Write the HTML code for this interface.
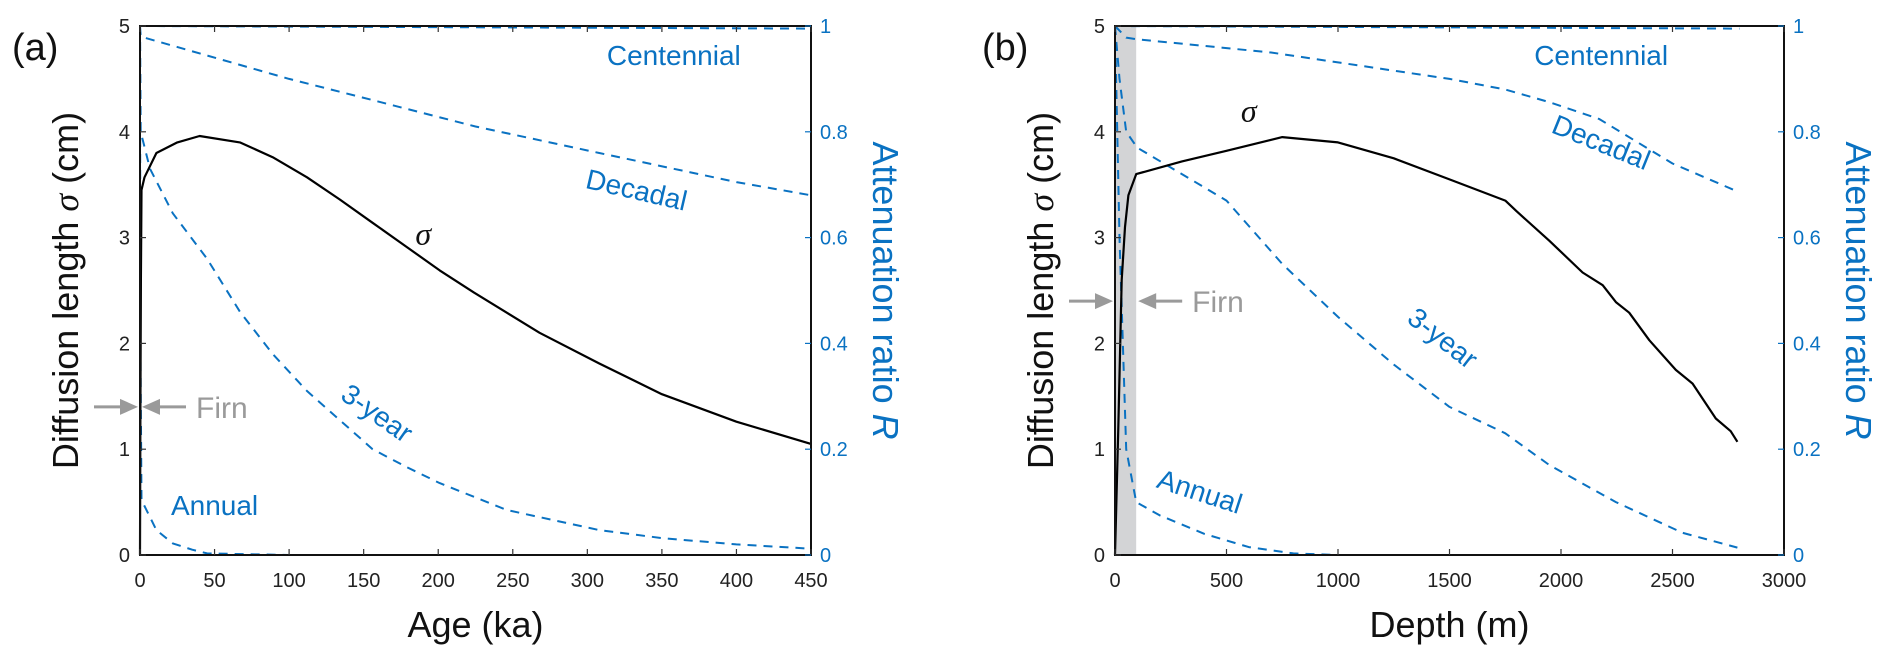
<!DOCTYPE html>
<html><head><meta charset="utf-8"><style>
html,body{margin:0;padding:0;background:#fff}
svg{display:block;font-family:"Liberation Sans",Arial,sans-serif}
</style></head><body>
<svg id="fig" width="1892" height="661" viewBox="0 0 1892 661" xmlns="http://www.w3.org/2000/svg"></svg>
<script>
// ---- Panel (a) data: age (ka) ----
const aSigmaX = [0,0.3,0.6,1,3,11,25,40,67,89,112,134,156,179,201,224,246,268,308,350,400,450];
const aSigmaY = [0,1.4,2.6,3.45,3.57,3.8,3.9,3.96,3.9,3.76,3.57,3.36,3.14,2.91,2.69,2.48,2.29,2.1,1.81,1.52,1.26,1.05];
const aCentX = [0,450];
const aCentR = [1.0,0.995];
const aDecX = [0,0.5,100,156,225,308,400,450];
const aDecR = [1.0,0.98,0.9,0.86,0.81,0.76,0.705,0.68];
const aTriX = [0,0.5,6.7,22,45,67,89,112,134,156,179,201,246,308,350,400,450];
const aTriR = [1.0,0.8,0.73,0.646,0.56,0.46,0.38,0.31,0.255,0.2,0.166,0.136,0.085,0.047,0.032,0.02,0.012];
const aAnnX = [0,0.3,1,11,22,35,45,100,450];
const aAnnR = [1.0,0.4,0.104,0.047,0.022,0.01,0.003,0,0];
const aXTicks = [0,50,100,150,200,250,300,350,400,450];
// ---- Panel (b) data: depth (m) ----
const bSigmaX = [0,15,30,45,60,95,300,500,750,1000,1250,1500,1750,1800,1948,2097,2187,2246,2306,2396,2515,2590,2694,2761,2791];
const bSigmaY = [0,1.2,2.6,3.1,3.4,3.6,3.72,3.82,3.95,3.9,3.75,3.55,3.35,3.25,2.97,2.67,2.55,2.39,2.29,2.03,1.75,1.62,1.29,1.17,1.07];
const bCentX = [0,2800];
const bCentR = [1.0,0.995];
const bDecX = [0,50,95,700,1500,1750,1948,2172,2500,2776];
const bDecR = [1.0,0.978,0.975,0.95,0.9,0.88,0.856,0.824,0.74,0.69];
const bTriX = [0,20,50,100,300,500,750,1000,1250,1500,1750,1948,2246,2545,2791];
const bTriR = [1.0,0.9,0.8,0.77,0.72,0.67,0.55,0.45,0.36,0.28,0.23,0.17,0.10,0.042,0.014];
const bAnnX = [0,20,50,95,200,400,600,800,1000,2800];
const bAnnR = [1.0,0.6,0.2,0.1,0.075,0.04,0.015,0.003,0,0];
const bXTicks = [0,500,1000,1500,2000,2500,3000];
// ---- common ticks ----
const leftTicks = [0,1,2,3,4,5];
const rightTicks = ["0","0.2","0.4","0.6","0.8","1"];

const NS="http://www.w3.org/2000/svg";
const svg=document.getElementById('fig');
const BLUE="#0a72c2";
function mk(tag,attrs,parent){const e=document.createElementNS(NS,tag);for(const k in attrs)e.setAttribute(k,attrs[k]);(parent||svg).appendChild(e);return e;}
function txt(s,attrs,parent){const t=mk('text',attrs,parent);t.textContent=s;return t;}

function panel(cfg){
  const L=cfg.L,R=cfg.R,T=26,B=555;
  const g=mk('g',{});
  
  
  const sx=v=>L+(v/cfg.xmax)*(R-L);
  const sy=v=>B-(v/5)*(B-T);
  const sr=v=>B-v*(B-T);
  if(cfg.band){const r=mk('rect',{x:sx(0),y:T,width:sx(cfg.band)-sx(0),height:B-T,fill:"#d3d4d6"},g);
    
    }
  function line(xs,ys,scale,dashed,nm){
    let d='';xs.forEach((x,i)=>{d+=(i?'L':'M')+sx(x).toFixed(1)+','+scale(ys[i]).toFixed(1);});
    const p=mk('path',{d:d,fill:'none',stroke:dashed?BLUE:'#000','stroke-width':dashed?2:2.2,'stroke-dasharray':dashed?'9,7':'none','stroke-linejoin':'round'},g);
    
    
  }
  line(cfg.cX,cfg.cR,sr,true,'centennial-line');
  line(cfg.dX,cfg.dR,sr,true,'decadal-line');
  line(cfg.tX,cfg.tR,sr,true,'three-year-line');
  line(cfg.nX,cfg.nR,sr,true,'annual-line');
  line(cfg.sX,cfg.sY,sy,false,'sigma-line');
  const fr=mk('rect',{x:L,y:T,width:R-L,height:B-T,fill:'none',stroke:'#111','stroke-width':2},g);
  
  
  cfg.xt.forEach(v=>{
    mk('line',{x1:sx(v),x2:sx(v),y1:B,y2:B-6,stroke:'#333','stroke-width':1.2},g);
    mk('line',{x1:sx(v),x2:sx(v),y1:T,y2:T+6,stroke:'#333','stroke-width':1.2},g);
    const t=txt(String(v),{x:sx(v),y:B+32,'font-size':20,'text-anchor':'middle',fill:'#222'},g);
    
    
  });
  leftTicks.forEach(v=>{
    mk('line',{x1:L,x2:L+6,y1:sy(v),y2:sy(v),stroke:'#333','stroke-width':1.2},g);
    const t=txt(String(v),{x:L-10,y:sy(v)+7,'font-size':20,'text-anchor':'end',fill:'#222'},g);
    
    
  });
  rightTicks.forEach((s,i)=>{
    const y=sr(i*0.2);
    mk('line',{x1:R,x2:R-6,y1:y,y2:y,stroke:BLUE,'stroke-width':1.2},g);
    const t=txt(s,{x:R+9,y:y+7,'font-size':20,fill:BLUE},g);
    
    
  });
  const xt=txt(cfg.xlabel,{x:(L+R)/2,y:637,'font-size':36,'text-anchor':'middle',fill:'#111'},g);
  
  
  const ly=(T+B)/2;
  const lt=mk('text',{x:0,y:0,'font-size':36,'text-anchor':'middle',fill:'#111',transform:`translate(${L-62},${ly}) rotate(-90)`},g);
  lt.innerHTML='Diffusion length <tspan font-family="Liberation Serif,serif" font-style="italic">σ</tspan> (cm)';
  
  
  const rt=mk('text',{x:0,y:0,'font-size':36,'text-anchor':'middle',fill:BLUE,transform:`translate(${R+62},${ly}) rotate(90)`},g);
  rt.innerHTML='Attenuation ratio <tspan font-style="italic">R</tspan>';
  
  
  const pl=txt(cfg.plabel,{x:cfg.plx,y:60,'font-size':38,fill:'#111'},g);
  
  
  const fy=sy(cfg.firnY);
  const ar=mk('g',{fill:'#9a9a9a',stroke:'#9a9a9a'},g);
  
  
  const a1=L-2, a2=sx(cfg.band||0)+2;
  mk('line',{x1:a1-44,x2:a1-16,y1:fy,y2:fy,'stroke-width':3},ar);
  mk('polygon',{points:`${a1},${fy} ${a1-18},${fy-8} ${a1-18},${fy+8}`,stroke:'none'},ar);
  mk('line',{x1:a2+16,x2:a2+44,y1:fy,y2:fy,'stroke-width':3},ar);
  mk('polygon',{points:`${a2},${fy} ${a2+18},${fy-8} ${a2+18},${fy+8}`,stroke:'none'},ar);
  const ft=txt('Firn',{x:a2+54,y:fy+11,'font-size':30,fill:'#9a9a9a'},g);
  
  
  cfg.labels.forEach(l=>{
    const t=txt(l.s,{x:0,y:0,'font-size':l.fs||28,fill:l.c||BLUE,'text-anchor':'middle','dominant-baseline':'central',transform:`translate(${sx(l.x)},${sy(l.y)}) rotate(${l.r||0})`},g);
    if(l.it){t.setAttribute('font-style','italic');t.setAttribute('font-family','Liberation Serif,serif');}
    
    
  });
}

panel({name:'panel-a',L:140,R:811,xmax:450,band:0,firnY:1.4,plabel:'(a)',plx:12,xlabel:'Age (ka)',
  sX:aSigmaX,sY:aSigmaY,cX:aCentX,cR:aCentR,dX:aDecX,dR:aDecR,tX:aTriX,tR:aTriR,nX:aAnnX,nR:aAnnR,xt:aXTicks,
  labels:[{s:'Centennial',x:358,y:4.72,n:'centennial-label'},
          {s:'Decadal',x:333,y:3.45,r:13,n:'decadal-label'},
          {s:'σ',x:190,y:3.04,c:'#111',it:true,fs:32,n:'sigma-label'},
          {s:'3-year',x:159,y:1.34,r:35,n:'three-year-label'},
          {s:'Annual',x:50,y:0.47,n:'annual-label'}]});
panel({name:'panel-b',L:1115,R:1784,xmax:3000,band:95,firnY:2.4,plabel:'(b)',plx:982,xlabel:'Depth (m)',
  sX:bSigmaX,sY:bSigmaY,cX:bCentX,cR:bCentR,dX:bDecX,dR:bDecR,tX:bTriX,tR:bTriR,nX:bAnnX,nR:bAnnR,xt:bXTicks,
  labels:[{s:'Centennial',x:2180,y:4.72,n:'centennial-label'},
          {s:'Decadal',x:2180,y:3.9,r:22,n:'decadal-label'},
          {s:'σ',x:600,y:4.2,c:'#111',it:true,fs:32,n:'sigma-label'},
          {s:'3-year',x:1470,y:2.05,r:38,n:'three-year-label'},
          {s:'Annual',x:380,y:0.6,r:18,n:'annual-label'}]});
</script>
</body></html>
